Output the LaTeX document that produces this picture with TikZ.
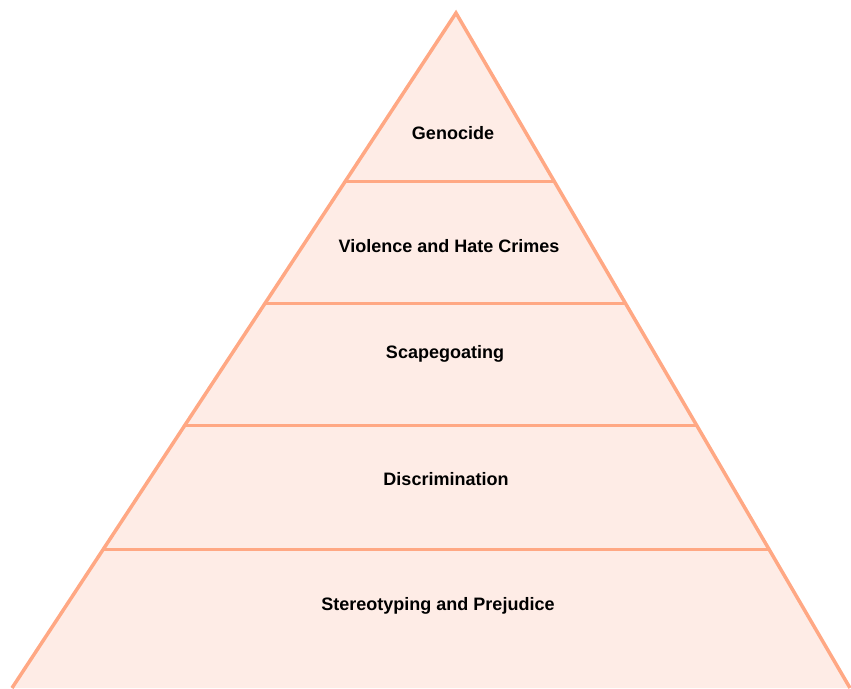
\documentclass[tikz,border=0pt]{standalone}
\usepackage{fontspec}
\setmainfont{Liberation Sans}
\usetikzlibrary{calc}
\definecolor{pyrline}{RGB}{255,168,132}
\definecolor{pyrfill}{RGB}{254,236,230}

\begin{document}
\begin{tikzpicture}[x=1pt,y=-1pt,
    level/.style={font=\bfseries\fontsize{18}{21}\selectfont, text=black}]
        \useasboundingbox (0,0) rectangle (851,688);
        \coordinate (apex) at (456,13);
        \coordinate (bl) at (12,688);
        \coordinate (br) at (850,688);
        
        \fill[pyrfill] (apex) -- (br) -- (bl) -- cycle;
        \foreach \t in {0.2496,0.4298,0.6115,0.7947}{
            \draw[pyrline, line width=3pt] ($(apex)!\t!(bl)$) -- ($(apex)!\t!(br)$);
        }
        \draw[pyrline, line width=3.5pt] (bl) -- (apex) -- (br);
        
        \node[level] (genocide) at (453,133) {Genocide};
        \node[level] (violence) at (449,246) {Violence and Hate Crimes};
        \node[level] (scape) at (445,354) {Scapegoating};
        \node[level] (discr) at (446,479) {Discrimination};
        \node[level] (stereo) at (438,606) {Stereotyping and Prejudice};
    \end{tikzpicture}
\end{document}
